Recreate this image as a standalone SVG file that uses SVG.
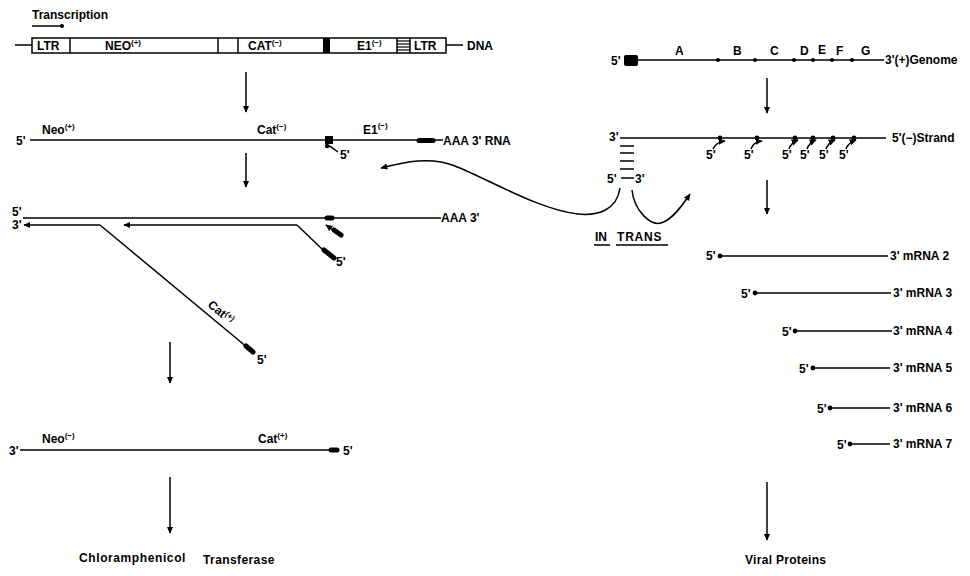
<svg xmlns="http://www.w3.org/2000/svg" width="970" height="576" viewBox="0 0 970 576">
<defs>
<style>
.t{font-family:"Liberation Sans",Arial,sans-serif;font-weight:bold;fill:#000;font-size:12px}
.s{font-size:8px}
.ln{stroke:#000;stroke-width:1.5;fill:none}
.th{stroke:#000;stroke-width:5;stroke-linecap:round;fill:none}
.bx{stroke:#000;stroke-width:1.5;fill:#fff}
.dot{fill:#000}
</style>
<marker id="ah" viewBox="0 0 10 10" refX="9" refY="5" markerWidth="7" markerHeight="7" markerUnits="userSpaceOnUse" orient="auto">
<path d="M0,0.5 L10,5 L0,9.5 z" fill="#000"/>
</marker>
</defs>
<rect width="970" height="576" fill="#fff"/>

<g id="transcription">
<text class="t" x="32" y="19" font-size="10" textLength="76">Transcription</text>
<line class="ln" x1="32" y1="26" x2="61" y2="26"/>
<circle class="dot" cx="62" cy="26" r="2"/>
</g>

<g id="dna">
<line class="ln" x1="15" y1="45" x2="32" y2="45"/>
<rect class="bx" x="32" y="38" width="414" height="15"/>
<line class="ln" x1="70" y1="38" x2="70" y2="53"/>
<line class="ln" x1="218" y1="38" x2="218" y2="53"/>
<line class="ln" x1="238" y1="38" x2="238" y2="53"/>
<rect x="323" y="38" width="7" height="15" fill="#000"/>
<line class="ln" x1="397" y1="38" x2="397" y2="53"/>
<line class="ln" x1="410" y1="38" x2="410" y2="53"/>
<g stroke="#000" stroke-width="1.2">
<line x1="397" y1="41" x2="410" y2="41"/>
<line x1="397" y1="44" x2="410" y2="44"/>
<line x1="397" y1="47" x2="410" y2="47"/>
<line x1="397" y1="50" x2="410" y2="50"/>
</g>
<line class="ln" x1="446" y1="45" x2="463" y2="45"/>
<text class="t" x="37" y="50">LTR</text>
<text class="t" x="105" y="50">NEO<tspan class="s" dy="-5">(+)</tspan></text>
<text class="t" x="248" y="50">CAT<tspan class="s" dy="-5">(−)</tspan></text>
<text class="t" x="357" y="50">E1<tspan class="s" dy="-5">(−)</tspan></text>
<text class="t" x="414" y="50">LTR</text>
<text class="t" x="467" y="50" font-size="13">DNA</text>
</g>

<g id="rna">
<text class="t" x="16" y="145" font-size="13">5'</text>
<line class="ln" x1="30" y1="140" x2="443" y2="140"/>
<text class="t" x="42" y="134">Neo<tspan class="s" dy="-5">(+)</tspan></text>
<text class="t" x="257" y="134">Cat<tspan class="s" dy="-5">(−)</tspan></text>
<rect x="325" y="136" width="8" height="8" fill="#000"/>
<path class="ln" d="M327,145 L331,147 L338,152"/>
<circle class="dot" cx="327" cy="146" r="2.2"/>
<text class="t" x="340" y="159">5'</text>
<text class="t" x="363" y="134" font-size="13">E1<tspan class="s" font-size="9" dy="-6">(−)</tspan></text>
<line class="th" x1="419" y1="140.5" x2="433" y2="140.5"/>
<text class="t" x="443" y="145" font-size="13">AAA 3' RNA</text>
</g>

<g id="dsrna">
<text class="t" x="12" y="216">5'</text>
<text class="t" x="12" y="229">3'</text>
<line class="ln" x1="23" y1="218" x2="441" y2="218"/>
<line class="th" x1="327" y1="218" x2="332" y2="218"/>
<text class="t" x="441" y="222">AAA 3'</text>
<path class="ln" d="M100,225 L248,348"/>
<line class="th" x1="246" y1="346" x2="253" y2="352"/>
<text class="t" x="257" y="364">5'</text>
<path class="ln" d="M297,225 L322,249"/>
<line class="th" x1="324" y1="250" x2="334" y2="258"/>
<text class="t" x="336" y="266">5'</text>
<path class="ln" d="M333,230 L326,225" marker-end="url(#ah)"/>
<line class="th" x1="334" y1="230" x2="341" y2="235"/>
<text class="t" transform="translate(207,306) rotate(39.7)" font-size="11">Cat<tspan class="s" dy="-4">(+)</tspan></text>
</g>

<g id="cdna">
<text class="t" x="9" y="455">3'</text>
<line class="ln" x1="20" y1="450" x2="332" y2="450"/>
<line class="th" x1="331" y1="450" x2="337" y2="450"/>
<text class="t" x="343" y="455">5'</text>
<text class="t" x="42" y="443">Neo<tspan class="s" dy="-5">(−)</tspan></text>
<text class="t" x="258" y="443">Cat<tspan class="s" dy="-5">(+)</tspan></text>
</g>

<g id="product-left">
<text class="t" x="79" y="562" font-size="13" letter-spacing="0.6">Chloramphenicol</text>
<text class="t" x="203" y="564" font-size="12" letter-spacing="0.4">Transferase</text>
</g>

<g id="genome">
<text class="t" x="611" y="65" font-size="13">5'</text>
<rect x="624" y="55" width="14" height="11" rx="2" fill="#000"/>
<line class="ln" x1="638" y1="60" x2="884" y2="60"/>
<circle class="dot" cx="718" cy="60" r="2"/>
<circle class="dot" cx="755" cy="60" r="2"/>
<circle class="dot" cx="794" cy="60" r="2"/>
<circle class="dot" cx="813" cy="60" r="2"/>
<circle class="dot" cx="832" cy="60" r="2"/>
<circle class="dot" cx="852" cy="60" r="2"/>
<text class="t" x="675" y="55">A</text>
<text class="t" x="733" y="55">B</text>
<text class="t" x="770" y="55">C</text>
<text class="t" x="800" y="55">D</text>
<text class="t" x="818" y="54">E</text>
<text class="t" x="836" y="55">F</text>
<text class="t" x="861" y="55">G</text>
<text class="t" x="885" y="64" font-size="13">3'(+)Genome</text>
</g>

<g id="strand">
<text class="t" x="609" y="141" font-size="13">3'</text>
<line class="ln" x1="620" y1="138" x2="886" y2="138"/>
<circle class="dot" cx="720" cy="138" r="2.4"/>
<circle class="dot" cx="757" cy="138" r="2.4"/>
<circle class="dot" cx="795" cy="138" r="2.4"/>
<circle class="dot" cx="813" cy="138" r="2.4"/>
<circle class="dot" cx="833" cy="138" r="2.4"/>
<circle class="dot" cx="854" cy="138" r="2.4"/>
<text class="t" x="706" y="159">5'</text>
<text class="t" x="744" y="159">5'</text>
<text class="t" x="782" y="159">5'</text>
<text class="t" x="800" y="159">5'</text>
<text class="t" x="819" y="159">5'</text>
<text class="t" x="839" y="159">5'</text>
<g class="ln" stroke-width="1.3">
<path d="M713,149 Q716,142 725,141" marker-end="url(#ah)"/>
<path d="M751,149 Q753,142 762,141" marker-end="url(#ah)"/>
<path d="M789,149 Q791,143 798,140" marker-end="url(#ah)"/>
<path d="M807,149 Q809,143 816,140" marker-end="url(#ah)"/>
<path d="M826,149 Q828,143 835,140" marker-end="url(#ah)"/>
<path d="M846,149 Q848,143 856,140" marker-end="url(#ah)"/>
</g>
<text class="t" x="892" y="142" font-size="13">5'(−)Strand</text>
</g>

<g id="hairpin">
<g class="ln">
<line x1="620" y1="146" x2="634" y2="146"/>
<line x1="620" y1="153" x2="634" y2="153"/>
<line x1="620" y1="161" x2="634" y2="161"/>
<line x1="620" y1="169" x2="634" y2="169"/>
<line x1="621" y1="178" x2="634" y2="178"/>
</g>
<text class="t" x="607" y="183">5'</text>
<text class="t" x="635" y="183">3'</text>
</g>

<g id="in-trans">
<text class="t" x="595" y="241" font-size="13">IN</text>
<text class="t" x="617" y="241" font-size="13" letter-spacing="0.8">TRANS</text>
<line class="ln" x1="594" y1="245" x2="610" y2="245"/>
<line class="ln" x1="616" y1="245" x2="668" y2="245"/>
</g>

<g id="mrnas">
<text class="t" x="706" y="260" font-size="13">5'</text>
<circle class="dot" cx="720" cy="256" r="2.4"/>
<line class="ln" x1="720" y1="256" x2="888" y2="256"/>
<text class="t" x="890" y="260">3' mRNA 2</text>

<text class="t" x="741" y="298" font-size="13">5'</text>
<circle class="dot" cx="755" cy="293" r="2.4"/>
<line class="ln" x1="755" y1="293" x2="891" y2="293"/>
<text class="t" x="893" y="297">3' mRNA 3</text>

<text class="t" x="782" y="336" font-size="13">5'</text>
<circle class="dot" cx="795" cy="331" r="2.4"/>
<line class="ln" x1="795" y1="331" x2="892" y2="331"/>
<text class="t" x="893" y="335">3' mRNA 4</text>

<text class="t" x="799" y="373" font-size="13">5'</text>
<circle class="dot" cx="813" cy="368" r="2.4"/>
<line class="ln" x1="813" y1="368" x2="890" y2="368"/>
<text class="t" x="893" y="372">3' mRNA 5</text>

<text class="t" x="817" y="413" font-size="13">5'</text>
<circle class="dot" cx="830" cy="408" r="2.4"/>
<line class="ln" x1="830" y1="408" x2="890" y2="408"/>
<text class="t" x="893" y="412">3' mRNA 6</text>

<text class="t" x="837" y="449" font-size="13">5'</text>
<circle class="dot" cx="850" cy="444" r="2.4"/>
<line class="ln" x1="850" y1="444" x2="890" y2="444"/>
<text class="t" x="893" y="448">3' mRNA 7</text>
</g>

<g id="product-right">
<text class="t" x="745" y="564" font-size="12" letter-spacing="0.3">Viral Proteins</text>
</g>

<g id="connectors" class="ln">
<line x1="246" y1="72" x2="246" y2="112" marker-end="url(#ah)"/>
<line x1="246" y1="153" x2="246" y2="187" marker-end="url(#ah)"/>
<line x1="170" y1="342" x2="170" y2="383" marker-end="url(#ah)"/>
<line x1="170" y1="477" x2="170" y2="533" marker-end="url(#ah)"/>
<line x1="767" y1="78" x2="767" y2="113" marker-end="url(#ah)"/>
<line x1="767" y1="180" x2="767" y2="214" marker-end="url(#ah)"/>
<line x1="767" y1="482" x2="767" y2="540" marker-end="url(#ah)"/>
<path d="M620,188 C617,210 598,216 578,214 C540,210 490,180 455,166 C430,156 405,162 381,168" marker-end="url(#ah)"/>
<path d="M632,190 C634,210 650,226 661,223 C672,220 682,206 690,194" marker-end="url(#ah)"/>
<line x1="100" y1="225" x2="24" y2="225" marker-end="url(#ah)"/>
<line x1="297" y1="225" x2="124" y2="225" marker-end="url(#ah)"/>
</g>
</svg>
